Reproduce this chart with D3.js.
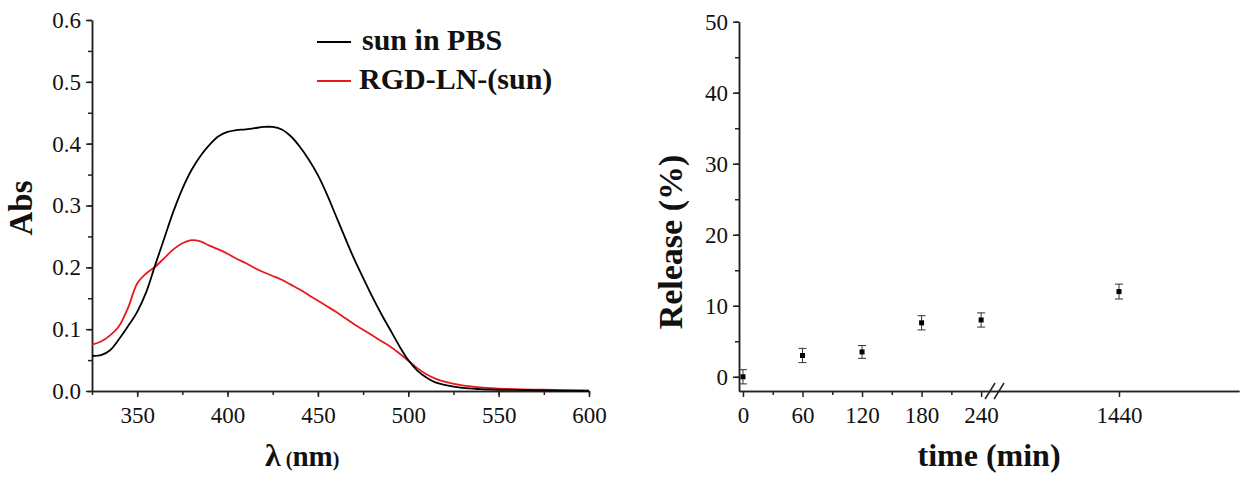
<!DOCTYPE html>
<html>
<head>
<meta charset="utf-8">
<script src="https://cdn.jsdelivr.net/npm/d3@7"></script>
<style>
  body { margin: 0; background: #fff; }
  svg { display: block; }
  text { font-family: "Liberation Serif", "Times New Roman", serif; fill: #111; }
  .axis path, .axis line { stroke: #222; stroke-width: 1.5; }
</style>
</head>
<body>
<svg id="chart"></svg>
<script>
const width = 1243;
const height = 479;

// ---- left panel: absorbance spectra ----
const wavelengths = [325, 330, 335, 340, 345, 350, 355, 360, 365, 370, 375, 380, 385, 390, 395, 400, 405, 410, 415, 420, 425, 430, 435, 440, 445, 450, 455, 460, 465, 470, 475, 480, 485, 490, 495, 500, 505, 510, 515, 520, 530, 540, 550, 575, 600];
const sunInPBS = [0.057, 0.058, 0.066, 0.084, 0.105, 0.128, 0.160, 0.204, 0.247, 0.290, 0.327, 0.357, 0.380, 0.398, 0.412, 0.419, 0.422, 0.423, 0.425, 0.427, 0.427, 0.423, 0.412, 0.395, 0.374, 0.349, 0.318, 0.283, 0.248, 0.214, 0.183, 0.153, 0.125, 0.099, 0.073, 0.050, 0.033, 0.022, 0.014, 0.010, 0.005, 0.003, 0.002, 0.001, 0.000];
const rgdLNsun = [0.075, 0.080, 0.090, 0.105, 0.135, 0.174, 0.190, 0.201, 0.215, 0.229, 0.239, 0.244, 0.242, 0.235, 0.229, 0.222, 0.214, 0.207, 0.199, 0.192, 0.186, 0.180, 0.172, 0.164, 0.155, 0.146, 0.137, 0.128, 0.118, 0.108, 0.099, 0.090, 0.081, 0.072, 0.061, 0.049, 0.037, 0.027, 0.020, 0.015, 0.009, 0.006, 0.004, 0.002, 0.001];
const seriesNames = ["sun in PBS", "RGD-LN-(sun)"];
const seriesColors = ["#000000", "#e8191c"];
const absTicks = [0.0, 0.1, 0.2, 0.3, 0.4, 0.5, 0.6];
const lambdaTicks = [350, 400, 450, 500, 550, 600];

// ---- right panel: release ----
const times = [0, 60, 120, 180, 240, 1440];
const release = [0, 3.0, 3.5, 7.6, 8.0, 12.0];
const releaseErr = [1.0, 1.0, 0.9, 1.0, 1.0, 1.05];
const timeTicks = [0, 60, 120, 180, 240, 1440];
const timeMinorTicks = [30, 90, 150, 210];
const releaseTicks = [0, 10, 20, 30, 40, 50];

const serif = '"Liberation Serif", "Times New Roman", serif';

const svg = d3.select("#chart").attr("width", width).attr("height", height);

// Left panel scales
const x1 = d3.scaleLinear().domain([325, 600]).range([92, 589]);
const y1 = d3.scaleLinear().domain([0, 0.6]).range([391, 20]);

function minorTicks(scale, step) {
	const [a, b] = scale.domain();
	return d3.range(Math.ceil(a / step) * step, b + 1e-9, step);
}

// draw an axis, then restyle its labels to the serif face
function drawAxis(axis, transform) {
	const g = svg.append("g")
		.attr("class", "axis")
		.attr("transform", transform)
		.call(axis);
	g.attr("font-family", serif).attr("font-size", 23);
	g.selectAll(".tick text").attr("fill", "#111");
	return g;
}

// left y axis
drawAxis(d3.axisLeft(y1).tickValues(minorTicks(y1, 0.05)).tickFormat("").tickSize(4).tickSizeOuter(0),
	`translate(${x1(325)},0)`);
drawAxis(d3.axisLeft(y1).tickValues(absTicks).tickFormat(d3.format(".1f")).tickSize(6).tickPadding(5).tickSizeOuter(0),
	`translate(${x1(325)},0)`);

// left x axis
drawAxis(d3.axisBottom(x1).tickValues(d3.range(325, 601, 25)).tickFormat("").tickSize(4).tickSizeOuter(0),
	`translate(0,${y1(0)})`);
drawAxis(d3.axisBottom(x1).tickValues(lambdaTicks).tickFormat(d3.format("d")).tickSize(6).tickPadding(10).tickSizeOuter(0),
	`translate(0,${y1(0)})`);

const spectra = [sunInPBS, rgdLNsun];
const line1 = d3.line()
	.curve(d3.curveCatmullRom.alpha(0.5))
	.x((d) => x1(d[0]))
	.y((d) => y1(d[1]));

// draw red first so black sits on top where they cross
[1, 0].forEach((i) => {
	svg.append("path")
		.datum(wavelengths.map((w, j) => [w, spectra[i][j]]))
		.attr("fill", "none")
		.attr("stroke", seriesColors[i])
		.attr("stroke-width", 1.8)
		.attr("d", line1);
});

// legend
seriesNames.forEach((name, i) => {
	const ly = 42 + i * 39;
	svg.append("line")
		.attr("x1", 317).attr("x2", 351)
		.attr("y1", ly).attr("y2", ly)
		.attr("stroke", seriesColors[i])
		.attr("stroke-width", 1.8);
	svg.append("text")
		.attr("x", i === 0 ? 362 : 359)
		.attr("y", ly + 8)
		.attr("font-size", 30)
		.attr("font-weight", "bold")
		.text(name);
});

// left axis titles
svg.append("text")
	.attr("transform", "translate(32,208) rotate(-90)")
	.attr("text-anchor", "middle")
	.attr("font-size", 33)
	.attr("font-weight", "bold")
	.text("Abs");

const lam = svg.append("text")
	.attr("x", 265)
	.attr("y", 466)
	.attr("font-weight", "bold");
lam.append("tspan").attr("font-size", 32).text("λ");
lam.append("tspan").attr("font-size", 20).attr("dx", 5).text("(");
lam.append("tspan").attr("font-size", 29).text("nm");
lam.append("tspan").attr("font-size", 20).text(")");

// ---- right panel ----
// broken time axis: 0-240 on the left, jump, then 1440
const x2 = d3.scaleLinear()
	.domain([-4, 256, 1320, 1560])
	.range([739, 997, 999, 1239]);
const y2 = d3.scaleLinear().domain([-2, 50]).range([391, 21.7]);

drawAxis(d3.axisLeft(y2).tickValues(d3.range(0, 51, 5)).tickFormat("").tickSize(4).tickSizeOuter(0),
	`translate(${x2(-4)},0)`);
drawAxis(d3.axisLeft(y2).tickValues(releaseTicks).tickFormat(d3.format("d")).tickSize(6).tickPadding(5).tickSizeOuter(0),
	`translate(${x2(-4)},0)`);

drawAxis(d3.axisBottom(x2).tickValues(timeMinorTicks).tickFormat("").tickSize(4).tickSizeOuter(0),
	`translate(0,${y2(-2)})`);
drawAxis(d3.axisBottom(x2).tickValues(timeTicks).tickFormat(d3.format("d")).tickSize(6).tickPadding(10).tickSizeOuter(0),
	`translate(0,${y2(-2)})`);

// break marks "//"
const bx = x2(250);
const by = y2(-2);
[0, 9].forEach((off) => {
	svg.append("line")
		.attr("x1", bx + off - 6).attr("y1", by + 8)
		.attr("x2", bx + off + 4).attr("y2", by - 8)
		.attr("stroke", "#222")
		.attr("stroke-width", 1.5);
});

// error bars + points
const pts = svg.append("g");
times.forEach((t, i) => {
	const cx = x2(t);
	const lo = y2(release[i] - releaseErr[i]);
	const hi = y2(release[i] + releaseErr[i]);
	pts.append("line").attr("x1", cx).attr("x2", cx).attr("y1", lo).attr("y2", hi)
		.attr("stroke", "#333").attr("stroke-width", 1);
	[lo, hi].forEach((yy) => {
		pts.append("line").attr("x1", cx - 4).attr("x2", cx + 4).attr("y1", yy).attr("y2", yy)
			.attr("stroke", "#333").attr("stroke-width", 1);
	});
	pts.append("rect")
		.attr("x", cx - 2.5).attr("y", y2(release[i]) - 2.5)
		.attr("width", 5).attr("height", 5)
		.attr("fill", "#000");
});

svg.append("text")
	.attr("transform", "translate(682,242) rotate(-90)")
	.attr("text-anchor", "middle")
	.attr("font-size", 34)
	.attr("font-weight", "bold")
	.text("Release (%)");

svg.append("text")
	.attr("x", 989)
	.attr("y", 466)
	.attr("text-anchor", "middle")
	.attr("font-size", 32)
	.attr("font-weight", "bold")
	.text("time (min)");
</script>
</body>
</html>
